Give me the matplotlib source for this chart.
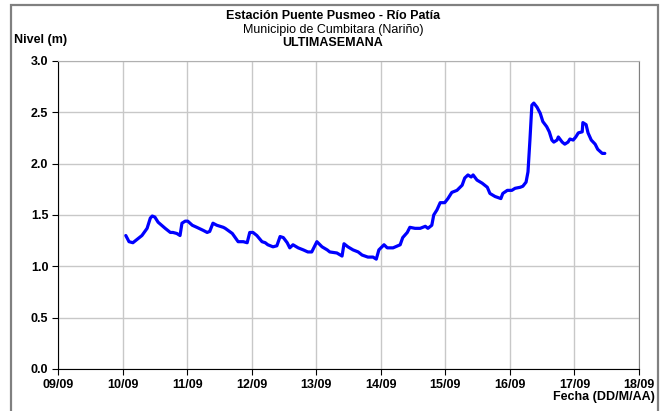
import matplotlib
matplotlib.use("Agg")
import matplotlib.pyplot as plt
from matplotlib.patches import Rectangle

plt.rcParams['font.family'] = ['Liberation Sans', 'DejaVu Sans']

# Time in days counted from 09/09 00:00, water level in metres
dias = [1.05, 1.10, 1.16, 1.22, 1.30, 1.38, 1.43, 1.46, 1.50, 1.55, 1.66, 1.74,
        1.78, 1.84, 1.89, 1.92, 1.97, 2.01, 2.08, 2.15, 2.25, 2.31, 2.35, 2.40,
        2.46, 2.56, 2.59, 2.70, 2.79, 2.87, 2.93, 2.97, 3.02, 3.08, 3.16, 3.21,
        3.25, 3.33, 3.39, 3.44, 3.49, 3.55, 3.59, 3.64, 3.72, 3.80, 3.87, 3.93,
        4.01, 4.09, 4.17, 4.21, 4.32, 4.40, 4.43, 4.49, 4.57, 4.65, 4.71, 4.80,
        4.88, 4.93, 4.97, 5.05, 5.10, 5.19, 5.30, 5.34, 5.41, 5.45, 5.53, 5.61,
        5.69, 5.73, 5.79, 5.82, 5.87, 5.92, 5.99, 6.04, 6.10, 6.18, 6.26, 6.30,
        6.35, 6.40, 6.43, 6.49, 6.57, 6.65, 6.69, 6.77, 6.86, 6.89, 6.96, 7.03,
        7.08, 7.16, 7.20, 7.25, 7.28, 7.31, 7.34, 7.37, 7.42, 7.47, 7.51, 7.57,
        7.61, 7.65, 7.68, 7.73, 7.75, 7.81, 7.85, 7.90, 7.93, 7.98, 8.02, 8.06,
        8.12, 8.13, 8.18, 8.21, 8.26, 8.32, 8.36, 8.43, 8.47]
nivel = [1.30, 1.24, 1.23, 1.26, 1.30, 1.37, 1.47, 1.49, 1.48, 1.43, 1.37, 1.33,
         1.33, 1.32, 1.30, 1.42, 1.44, 1.44, 1.40, 1.38, 1.35, 1.33, 1.34, 1.42,
         1.40, 1.38, 1.37, 1.32, 1.24, 1.24, 1.23, 1.33, 1.33, 1.30, 1.24, 1.23,
         1.21, 1.19, 1.20, 1.29, 1.28, 1.23, 1.18, 1.21, 1.18, 1.16, 1.14, 1.14,
         1.24, 1.19, 1.16, 1.14, 1.13, 1.10, 1.22, 1.19, 1.16, 1.14, 1.11, 1.09,
         1.09, 1.07, 1.16, 1.21, 1.18, 1.18, 1.21, 1.28, 1.33, 1.38, 1.37, 1.37,
         1.39, 1.37, 1.40, 1.50, 1.55, 1.62, 1.62, 1.66, 1.72, 1.74, 1.79, 1.86,
         1.89, 1.87, 1.89, 1.84, 1.81, 1.77, 1.71, 1.68, 1.66, 1.71, 1.74, 1.74,
         1.76, 1.77, 1.78, 1.82, 1.92, 2.23, 2.57, 2.59, 2.55, 2.49, 2.41, 2.36,
         2.31, 2.23, 2.21, 2.23, 2.26, 2.21, 2.19, 2.21, 2.24, 2.23, 2.26, 2.30,
         2.31, 2.40, 2.38, 2.30, 2.23, 2.19, 2.14, 2.10, 2.10]

etiquetas_x = ['09/09', '10/09', '11/09', '12/09', '13/09', '14/09', '15/09',
               '16/09', '17/09', '18/09']
valores_y = [0.0, 0.5, 1.0, 1.5, 2.0, 2.5, 3.0]

fig = plt.figure(figsize=(6.66, 4.11), dpi=100)
ax = fig.add_axes([0.0871, 0.1022, 0.8724, 0.7494])

ax.plot(dias, nivel, color='#0000FF', lw=2.3, solid_joinstyle='round',
        solid_capstyle='round')

ax.set_xlim(0, len(etiquetas_x) - 1)
ax.set_ylim(valores_y[0], valores_y[-1])
ax.set_xticks(range(len(etiquetas_x)))
ax.set_xticklabels(etiquetas_x)
ax.set_yticks(valores_y)
ax.set_yticklabels([f'{v:.1f}' for v in valores_y])

ax.grid(True, color='#c8c8c8', lw=1.0)
ax.set_axisbelow(True)
for lab in ax.get_xticklabels() + ax.get_yticklabels():
    lab.set_fontweight('bold')
    lab.set_fontsize(9)
ax.tick_params(axis='both', direction='out', length=4, width=0.8, color='black', pad=3)
ax.spines['left'].set_color('black')
ax.spines['bottom'].set_color('black')
ax.spines['top'].set_color('#b0b0b0')
ax.spines['right'].set_color('#808080')

fig.text(0.5, 0.962, 'Estación Puente Pusmeo - Río Patía', ha='center', va='center',
         fontsize=9, fontweight='bold')
fig.text(0.5, 0.928, 'Municipio de Cumbitara (Nariño)', ha='center', va='center',
         fontsize=9)
fig.text(0.5, 0.895, 'ULTIMASEMANA', ha='center', va='center',
         fontsize=9, fontweight='bold')
fig.text(0.021, 0.903, 'Nivel (m)', ha='left', va='center', fontsize=9, fontweight='bold')
fig.text(0.984, 0.034, 'Fecha (DD/M/AA)', ha='right', va='center', fontsize=9,
         fontweight='bold')

fig.patches.append(Rectangle((0.016, -0.02), 0.972, 1.008, transform=fig.transFigure,
                             fill=False, edgecolor='#808080', lw=1.6))

fig.savefig('out.png', dpi=100)
